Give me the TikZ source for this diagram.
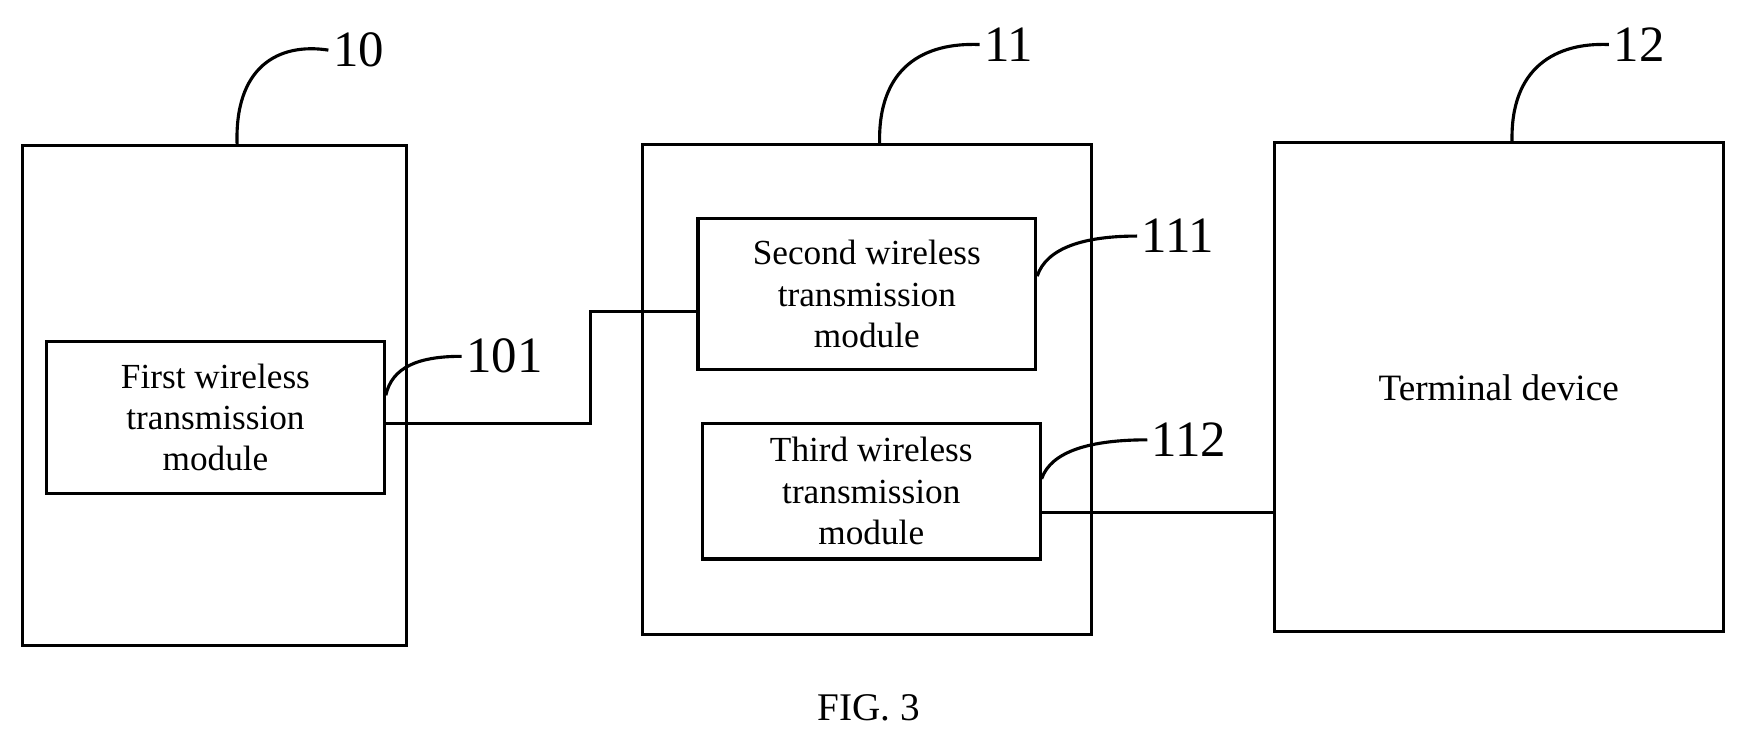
\documentclass[tikz,border=0pt]{standalone}
\usepackage{fontspec}
\setmainfont{Liberation Serif}
\usetikzlibrary{positioning}
\begin{document}
\begin{tikzpicture}[x=0.01cm,y=-0.01cm]
\tikzstyle{unit}=[draw, thick, inner sep=0pt]
\tikzstyle{module}=[unit, font=\fontsize{9}{10.5}\selectfont, align=center, minimum width=3.03cm]
\tikzstyle{lead}=[thick]
\tikzstyle{tag}=[font=\fontsize{13}{13}\selectfont, inner sep=1pt]
\tikzstyle{connect}=[thick]
\useasboundingbox (0,0) rectangle (1560,666);

  \draw[unit] (20,131) rectangle (365,580);
  \draw[unit] (577,130) rectangle (980,570);
  \draw[unit] (1145,128) rectangle (1548,567);
  \node[font=\fontsize{9.5}{10.5}\selectfont] (term) at (1346,348) {Terminal device};

  \node[module, minimum height=1.36cm] (m101) at (193.5,375) {First wireless\\transmission\\module};
  \node[module, minimum height=1.36cm] (m111) at (778.5,264) {Second wireless\\transmission\\module};
  \node[module, minimum height=1.22cm] (m112) at (782.5,441) {Third wireless\\transmission\\module};
  \coordinate (t12) at (1145,460);

  \draw[connect] (m101.east |- 0,380) -- (530,380) -- (530,280) -- (m111.west |- 0,280);
  \draw[connect] (m112.east |- 0,460) -- (t12);

  \node[tag] (l10) at (322,45) {10};
  \node[tag] (l11) at (906,40) {11};
  \node[tag] (l12) at (1472,40) {12};
  \node[tag] (l101) at (453,320) {101};
  \node[tag] (l111) at (1058,212) {111};
  \node[tag] (l112) at (1068,395) {112};

  \draw[lead] (213,131) .. controls (210,60) and (250,38) .. (l10.west);
  \draw[lead] (790,130) .. controls (788,60) and (830,38) .. (l11.west);
  \draw[lead] (1358,128) .. controls (1356,60) and (1398,38) .. (l12.west);
  \draw[lead] (m101.east |- 0,355) .. controls (352,330) and (375,320) .. (l101.west);
  \draw[lead] (m111.east |- 0,248) .. controls (940,222) and (975,212) .. (l111.west);
  \draw[lead] (m112.east |- 0,430) .. controls (944,405) and (980,395) .. (l112.west);

  \node[font=\fontsize{10}{10}\selectfont] (fig) at (780,636) {FIG. 3};
\end{tikzpicture}
\end{document}
